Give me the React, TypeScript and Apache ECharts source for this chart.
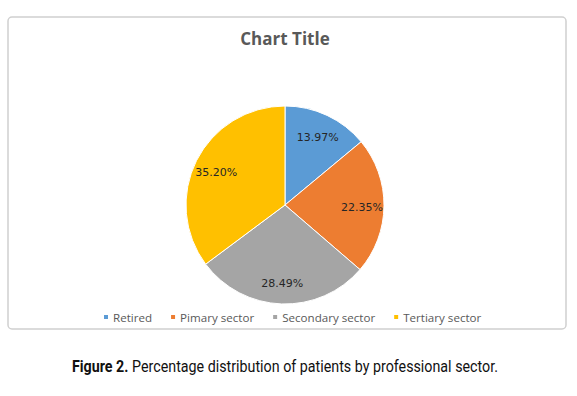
import React, { useEffect, useRef } from "react";
import * as echarts from "echarts";

const categories = ["Retired", "Pimary sector", "Secondary sector", "Tertiary sector"];
const values = [13.97, 22.35, 28.49, 35.2];
const labels = ["13.97%", "22.35%", "28.49%", "35.20%"];
const colors = ["#5B9BD5", "#ED7D31", "#A5A5A5", "#FFC000"];
const chartTitle = "Chart Title";
const captionBold = "Figure 2.";
const captionText = " Percentage distribution of patients by professional sector.";

export default function App() {
  const ref = useRef<HTMLDivElement>(null);
  useEffect(() => {
    document.body.style.margin = "0";
    const chart = echarts.init(ref.current!, null, { renderer: "svg" });
    const data = categories.map((name, i) => ({
      name,
      value: values[i],
      itemStyle: { color: colors[i] },
    }));
    const capFont = "Roboto, sans-serif";
    chart.setOption({
      animation: false,
      backgroundColor: "#ffffff",
      title: {
        text: chartTitle,
        left: 280,
        textAlign: "center",
        top: 25,
        textStyle: {
          fontFamily: "'Open Sans', sans-serif",
          fontSize: 17,
          fontWeight: "bold",
          color: "#595959",
        },
      },
      legend: {
        data: categories,
        left: 97,
        top: 306,
        icon: "rect",
        itemWidth: 6,
        itemHeight: 6,
        itemGap: 17,
        textStyle: {
          fontFamily: "'Open Sans', sans-serif",
          fontSize: 11.6,
          color: "#595959",
          padding: [0, 0, 0, -1],
        },
      },
      graphic: [
        {
          type: "rect",
          shape: { x: 8, y: 17, width: 558, height: 312, r: 4 },
          style: { fill: "none", stroke: "#D0D0D0", lineWidth: 1.5 },
          z: -1,
        },
        {
          type: "text",
          x: 285,
          y: 366,
          scaleX: 0.84,
          style: {
            text: `{b|${captionBold}}{r|${captionText}}`,
            align: "center",
            verticalAlign: "middle",
            rich: {
              b: {
                fontFamily: capFont,
                fontSize: 17,
                fontWeight: "bold",
                fill: "#111111",
              },
              r: {
                fontFamily: capFont,
                fontSize: 17,
                fill: "#111111",
              },
            },
          },
        },
      ],
      series: [
        {
          type: "pie",
          center: [285, 205],
          radius: [0, 99],
          startAngle: 90,
          clockwise: true,
          label: { show: false },
          labelLine: { show: false },
          itemStyle: { borderColor: "#ffffff", borderWidth: 1 },
          emphasis: { disabled: true },
          data,
        },
        {
          type: "pie",
          center: [285, 207],
          radius: [46, 102],
          startAngle: 90,
          clockwise: true,
          silent: true,
          legendHoverLink: false,
          itemStyle: { color: "transparent", opacity: 0 },
          label: {
            show: true,
            position: "inside",
            formatter: (p: any) => labels[p.dataIndex],
            fontFamily: "'DejaVu Sans', sans-serif",
            fontSize: 11,
            color: "#262626",
            opacity: 1,
          },
          labelLine: { show: false },
          emphasis: { disabled: true },
          data: categories.map((name, i) => ({ name, value: values[i] })),
        },
      ],
    });
    return () => chart.dispose();
  }, []);
  return <div ref={ref} style={{ width: 577, height: 396 }} />;
}
